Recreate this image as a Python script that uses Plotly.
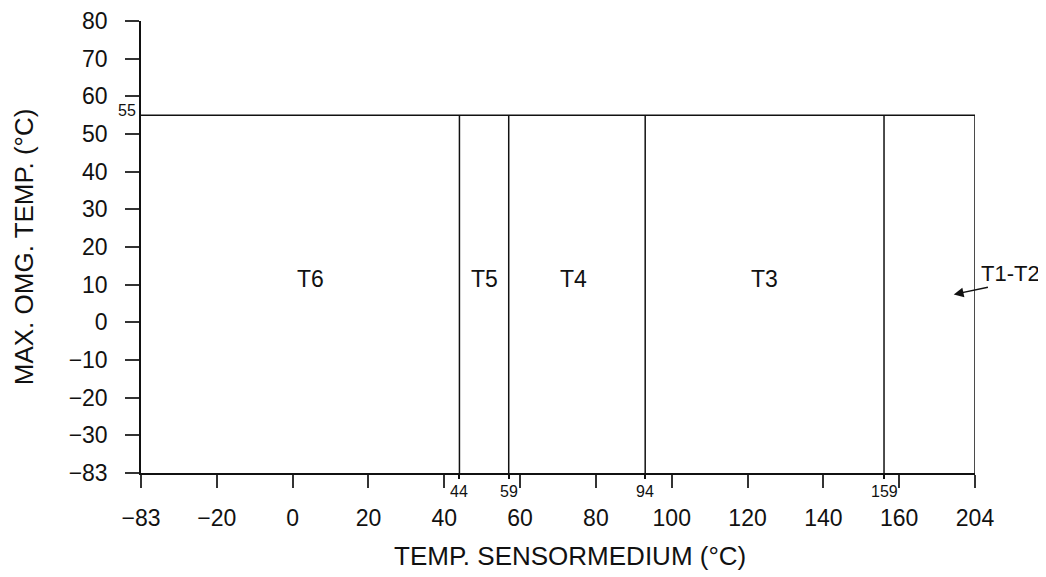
import plotly.graph_objects as go

# ---------------- data ----------------
x_ticks = [-83, -20, 0, 20, 40, 60, 80, 100, 120, 140, 160, 204]
y_ticks = [-83, -30, -20, -10, 0, 10, 20, 30, 40, 50, 60, 70, 80]

max_ambient = 55                        # max. ambient temperature (°C)
zone_limits = [44, 57, 93, 156]         # boundary positions as drawn on the axis
zone_limit_labels = ["44", "59", "94", "159"]

class_names = ["T6", "T5", "T4", "T3"]
class_x = [4.6, 50.5, 74.0, 124.4]
class_y = [11.6, 11.6, 11.6, 11.6]

side_label = "T1-T2"
side_label_y = 12.9
arrow_tip = (174.4, 7.4)
arrow_tail = (183.8, 9.4)

# ---------------- broken-axis scales ----------------
# the first / last labels sit one regular step beyond the neighbouring regular tick
x_step = x_ticks[2] - x_ticks[1]
y_step = y_ticks[2] - y_ticks[1]
X_BREAKS = {x_ticks[0]: x_ticks[1] - x_step, x_ticks[-1]: x_ticks[-2] + x_step}
Y_BREAKS = {y_ticks[0]: y_ticks[1] - y_step}


def xs(v):
    return X_BREAKS.get(v, v)


def ys(v):
    return Y_BREAKS.get(v, v)


def lab(v):
    return str(v).replace("-", "\u2212")


XMIN, XMAX = x_ticks[0], x_ticks[-1]
YMIN, YMAX = y_ticks[0], y_ticks[-1]

FONT = "Liberation Sans, Arial, sans-serif"
INK = "#111111"

fig = go.Figure()

# frame: top (max ambient) and right side
fig.add_trace(go.Scatter(
    x=[xs(XMIN), xs(XMAX), xs(XMAX)],
    y=[ys(max_ambient), ys(max_ambient), ys(YMIN)],
    mode="lines", line=dict(color=INK, width=1.5), hoverinfo="skip", showlegend=False))

# zone boundaries (on an overlaid twin x-axis whose short ticks continue them)
vx, vy = [], []
for z in zone_limits:
    vx += [xs(z), xs(z), None]
    vy += [ys(max_ambient), ys(YMIN), None]
fig.add_trace(go.Scatter(x=vx, y=vy, mode="lines", xaxis="x2",
                         line=dict(color=INK, width=1.5),
                         hoverinfo="skip", showlegend=False))

annotations = []
# class labels
for n, cx, cy in zip(class_names, class_x, class_y):
    annotations.append(dict(x=cx, y=cy, xref="x", yref="y", text=n, showarrow=False,
                            font=dict(family=FONT, size=23, color=INK)))
# boundary labels below the axis
for z, t in zip(zone_limits, zone_limit_labels):
    annotations.append(dict(x=xs(z), y=ys(YMIN), xref="x", yref="y", text=t,
                            showarrow=False, yanchor="top", yshift=-8,
                            font=dict(family=FONT, size=16, color=INK)))
# 55 label
annotations.append(dict(x=xs(XMIN), y=ys(max_ambient), xref="x", yref="y",
                        text=str(max_ambient), showarrow=False, xanchor="right",
                        yanchor="middle", xshift=-3, yshift=5,
                        font=dict(family=FONT, size=16, color=INK)))
# T1-T2 label (anchored on the right frame edge, shifted outward) + arrow
annotations.append(dict(x=xs(XMAX), y=side_label_y, xref="x", yref="y",
                        text=side_label, showarrow=False, xanchor="center",
                        yanchor="middle", xshift=35,
                        font=dict(family=FONT, size=22, color=INK)))
annotations.append(dict(x=arrow_tip[0], y=arrow_tip[1], xref="x", yref="y",
                        ax=arrow_tail[0], ay=arrow_tail[1], axref="x", ayref="y",
                        text="", showarrow=True, arrowhead=2, arrowsize=1.4,
                        arrowwidth=1.4, arrowcolor=INK))
# axis titles
annotations.append(dict(x=0.514, y=-0.183, xref="paper", yref="paper",
                        xanchor="center", yanchor="middle",
                        text="TEMP. SENSORMEDIUM (°C)", showarrow=False,
                        font=dict(family=FONT, size=26, color=INK)))
annotations.append(dict(x=-0.140, y=0.5, xref="paper", yref="paper",
                        xanchor="center", yanchor="middle",
                        text="MAX. OMG. TEMP. (°C)", showarrow=False, textangle=-90,
                        font=dict(family=FONT, size=26, color=INK)))

xrange = [xs(XMIN), xs(XMAX)]
fig.update_layout(
    width=1038, height=569,
    margin=dict(l=133, r=71, t=13, b=104),
    paper_bgcolor="white", plot_bgcolor="white",
    showlegend=False,
    annotations=annotations,
    xaxis=dict(range=xrange, tickmode="array", automargin=False,
               tickvals=[xs(v) for v in x_ticks], ticktext=[lab(v) for v in x_ticks],
               ticks="outside", ticklen=13, tickwidth=1.5, tickcolor="#333333",
               showline=True, linecolor=INK, linewidth=1.5,
               showgrid=False, zeroline=False, ticklabelstandoff=11,
               ticklabeloverflow="allow",
               tickfont=dict(family=FONT, size=23, color=INK)),
    xaxis2=dict(range=xrange, overlaying="x", anchor="y", side="bottom",
                automargin=False, tickmode="array",
                tickvals=[xs(z) for z in zone_limits], showticklabels=False,
                ticks="outside", ticklen=5, tickwidth=1.5, tickcolor=INK,
                showline=False, showgrid=False, zeroline=False),
    yaxis=dict(range=[ys(YMIN), ys(YMAX)], tickmode="array", automargin=False,
               tickvals=[ys(v) for v in y_ticks], ticktext=[lab(v) for v in y_ticks],
               ticks="outside", ticklen=14, tickwidth=1.5, tickcolor="#333333",
               showline=True, linecolor=INK, linewidth=1.5,
               showgrid=False, zeroline=False, ticklabelstandoff=13,
               ticklabeloverflow="allow",
               tickfont=dict(family=FONT, size=23, color=INK)),
)

fig.write_html("out.html")
